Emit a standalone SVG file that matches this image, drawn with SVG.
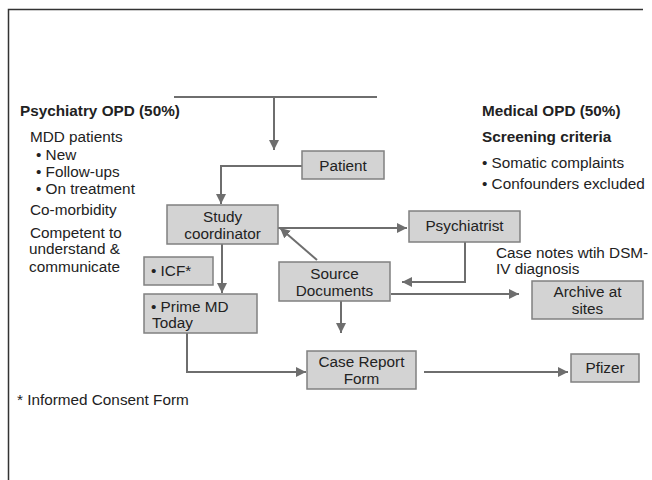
<svg xmlns="http://www.w3.org/2000/svg" width="652" height="480" viewBox="0 0 652 480">
<defs>
<marker id="ah" viewBox="0 0 10 10" refX="10" refY="5" markerWidth="10" markerHeight="10" markerUnits="userSpaceOnUse" orient="auto">
<path d="M0,0 L10,5 L0,10 z" fill="#6e6e6e"/>
</marker>
<style>
text{font-family:"Liberation Sans",Arial,sans-serif;font-size:15.3px;fill:#222}
.b{font-weight:bold}
.m{text-anchor:middle}
.box{fill:#d3d3d3;stroke:#808080;stroke-width:1.5}
.ln{fill:none;stroke:#6e6e6e;stroke-width:2}
.ar{fill:none;stroke:#6e6e6e;stroke-width:2;marker-end:url(#ah)}
</style>
</defs>
<rect width="652" height="480" fill="#fff"/>
<path d="M8.5,480 V9.5 H643" fill="none" stroke="#333" stroke-width="1.5"/>

<g id="left-text">
<text class="b" x="20" y="116">Psychiatry OPD (50%)</text>
<text x="30" y="142">MDD patients</text>
<text x="36" y="160">• New</text>
<text x="36" y="177">• Follow-ups</text>
<text x="36" y="194">• On treatment</text>
<text x="30" y="215">Co-morbidity</text>
<text x="30" y="238">Competent to</text>
<text x="29" y="254">understand &amp;</text>
<text x="29" y="272">communicate</text>
<text x="17" y="405">* Informed Consent Form</text>
</g>
<g id="right-text">
<text class="b" x="482" y="116">Medical OPD (50%)</text>
<text class="b" x="482" y="142">Screening criteria</text>
<text x="482" y="168">• Somatic complaints</text>
<text x="482" y="189">• Confounders excluded</text>
<text x="496" y="258">Case notes wtih DSM-</text>
<text x="496" y="274">IV diagnosis</text>
</g>

<g id="connectors">
<path class="ln" d="M174,97 H377"/>
<path class="ar" d="M274,97 V150"/>
<path class="ar" d="M302,166 H221 V204"/>
<path class="ar" d="M278,228 H407"/>
<path class="ar" d="M465,242 V282 H402"/>
<path class="ar" d="M317,260 L280,228"/>
<path class="ar" d="M391,294 H519"/>
<path class="ar" d="M341,301 V333"/>
<path class="ar" d="M222,244 V293"/>
<path class="ar" d="M187,333 V372 H306"/>
<path class="ar" d="M424,372 H568"/>
</g>

<g id="patient"><rect class="box" x="302" y="151" width="82" height="28"/><text class="m" x="343" y="171">Patient</text></g>
<g id="study-coordinator"><rect class="box" x="167" y="205" width="111" height="39"/><text class="m" x="222.5" y="222">Study</text><text class="m" x="222.5" y="239">coordinator</text></g>
<g id="psychiatrist"><rect class="box" x="409" y="211" width="111" height="31"/><text class="m" x="464.5" y="231">Psychiatrist</text></g>
<g id="icf"><rect class="box" x="144" y="257" width="69" height="28"/><text x="151" y="276">• ICF*</text></g>
<g id="source-documents"><rect class="box" x="279" y="262" width="111" height="39"/><text class="m" x="334.5" y="279">Source</text><text class="m" x="334.5" y="296">Documents</text></g>
<g id="archive"><rect class="box" x="532" y="281" width="111" height="38"/><text class="m" x="587.5" y="297">Archive at</text><text class="m" x="587.5" y="314">sites</text></g>
<g id="prime-md"><rect class="box" x="144" y="294" width="113" height="39"/><text x="151" y="312">• Prime MD</text><text x="152" y="328">Today</text></g>
<g id="crf"><rect class="box" x="307" y="351" width="109" height="38"/><text class="m" x="361.5" y="367">Case Report</text><text class="m" x="361.5" y="384">Form</text></g>
<g id="pfizer"><rect class="box" x="571" y="354" width="68" height="28"/><text class="m" x="605" y="373">Pfizer</text></g>
</svg>
